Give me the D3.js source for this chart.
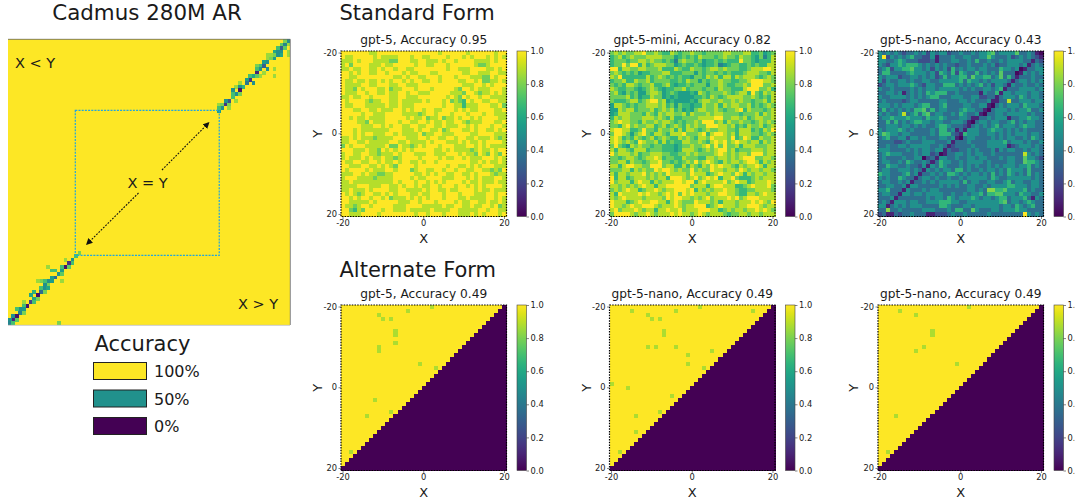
<!DOCTYPE html>
<html>
<head>
<meta charset="utf-8">
<script src="https://cdn.jsdelivr.net/npm/d3@7"></script>
<style>
  body { margin: 0; background: #fff; }
  text { font-family: "DejaVu Sans", sans-serif; fill: #1a1a1a; }
  rect.cell { shape-rendering: crispEdges; }
</style>
</head>
<body>
<div id="graph"></div>
<script>
// one digit per cell, looked up in the levels below
const std5Rows = [
"9999999889 9999999999 9999899999 9899999989 9","9889999989 8888999899 8899998999 8989998989 8","8889899988 8877999889 9888989989 9998888989 9",
"8979999888 9889999989 9889998999 9998778999 9","8898899889 8998998899 9999998998 8899998898 9","9989899889 9899989889 9988999999 8899888998 8",
"9988999999 9998898998 8999899989 9988877989 9","9889889889 8989989899 8899899998 8998977889 8","9888899889 9988998889 9999999999 8889989899 9",
"9887989998 8978899989 9989999987 9989888999 8","9888998998 8988998998 8899999888 7998788989 8","8898899899 9988998889 9999998987 9899899888 8",
"9899998788 9988988888 9899989787 6989988998 8","9889998888 8988988899 9999989988 6888999889 7","9998899889 8889989899 8998899989 8988999988 9",
"9999989988 8999988887 8998999899 9899989988 8","9989889888 8999998988 9788978898 9989899998 8","9999887988 8999899889 9898898899 8788899988 9",
"9999988899 8989988998 8998898889 9898999899 8","9998988888 8899988898 9988978999 8898998898 9","9998989988 8998988889 7889988899 9988999988 8",
"8898988878 8889998889 9899889989 9889888987 8","8899889888 8899889888 8989998889 8988989999 8","7989998888 8977988789 8999899988 8998989888 8",
"9998889887 9898989899 9998898988 8878988989 9","8998899887 8889899988 8998889998 9887987987 9","8988898988 9887899998 9999898899 8988899989 8",
"9889988998 9889899889 8998999999 9988989889 8","9988899889 8987999989 9999998998 8989899988 8","9899998988 8998999789 9889989989 9889988787 9",
"8889989887 7889999988 9898998899 8898999878 8","8999888878 8889999898 8999988899 9898988899 8","8898888888 8889899989 9898989999 8988988898 8",
"8888999888 9988989989 8899899989 9898989999 8","8898889899 9988998888 9899889889 9998988988 8","9898789988 9898999889 8899989998 9998889989 9",
"9989899899 8978889898 9899989998 8988889989 8","9988888989 9999888998 9998999989 8899889889 8","9887899899 9998889999 8888898899 8898899897 8",
"9976879999 8998889888 8898888998 8888998998 8","9988899998 9999999989 9899989998 8898989998 9"];

const stdMiniRows = [
"7878778897 7876687677 8776777788 7778866756 7","6786787778 8887775676 7687776787 7687765746 8","6777677887 8776764787 7675667676 6697765666 8",
"6779799686 7888775676 6765667456 7766767668 8","9968877887 7786668766 8776788787 7766788899 8","7876767566 7778866677 7576776767 6667888776 8",
"8796666668 6787676766 5776878688 6878887678 7","6778668778 6777766768 7757677877 6677899988 7","7676887677 8667865667 6777577876 6778799977 8",
"8766776567 8765667786 7776776877 6668999778 6","7865767557 8875676555 6587677787 6788697687 8","7777867566 8775656555 5667687678 8887787676 8",
"7666788678 9978565555 6578877877 8787767786 8","5887676778 8878675766 5668778687 8877867678 7","5587886777 8678786756 5788778767 7896877767 8",
"5688877768 7687887786 8777878877 7767778687 8","6878877788 8787686677 7788889977 8878678877 8","7898877687 7878876767 7879997868 7787767878 7",
"7768978778 8678678768 7877999887 8676877867 8","8998866797 7687786868 8767877887 7688867687 9","7998757897 6887688897 7789689987 8688877678 7",
"8986768767 8678766878 7688798887 9679866877 8","8987876987 7868676688 7787689897 8988788687 8","7976587877 6776665677 8778979797 7868887778 8",
"8688768886 7776665688 8767878997 8677788878 8","9788878677 8887766778 7877778987 8788799978 8","7767887678 8986776687 7766887887 8789997788 7",
"7788687767 8897767678 7978987687 8878998687 8","8868998877 9997886686 8768798988 7687889868 8","7778868787 7989987877 9787798878 8798788788 7",
"8688788897 8787988887 9888678988 7986878878 8","9688678887 8788699987 8978989688 9766678788 8","9788868988 6878889989 9689888897 8988678889 8",
"8878787898 8688999999 7888689988 8667898889 7","7878988678 8987889998 9687878898 8766778888 7","8698888989 8878989798 9888788998 8766887898 8",
"8789888878 8887989988 7878978889 8978999888 8","9888678988 9988689877 7988878688 8788898987 9","9887898899 9878889878 8999678988 8788999878 8",
"8978889878 8688988978 8899988678 7887889898 7","7999987889 8788898988 7898788876 7788788788 8"];

const stdNanoRows = [
"4343432334 3424344233 4334344563 4444633431 0","4924343453 3224133343 3443344643 3342343432 1","4433454333 2223133344 3343533433 4344443313 2",
"4324454555 4343434332 3343334342 3344434134 3","3452445564 4342434253 4344344333 5443401334 4","3553333454 4434254352 5433534343 6333014343 4",
"4344423344 3434235344 5536445534 6353133343 3","4243344343 3443344444 5354434344 4431344343 4","2344344454 3244335553 4343453424 4314334334 3",
"4334333343 4344344444 3434334434 5133344443 4","3344341343 4354555334 3333314335 1443444344 3","4334444343 4345533344 4334422331 3444354344 3",
"3433332344 3333344333 4434333411 3383344434 4","4443434443 4553345333 3443344103 4344435444 3","3534343435 5635344333 4544331034 4434344533 4",
"4343348345 3563443343 5433410334 4344444343 3","3445444544 4354454333 4431133434 4413344544 3","3353534345 5443443344 4310344344 3345343443 3",
"3344434434 3433455433 3213434345 3444345443 3","4344454343 3334355341 3144433454 4343434333 3","4654434433 3334355532 1544433443 4343444344 3",
"3453344244 3433344341 0344333343 4344334354 3","3333223433 3444333413 3343333444 4534443433 4","3343344344 4443343123 3334333444 4412344434 3",
"4443333434 3443441322 3343433342 4344334344 3","3454443334 3442301334 4343443343 3333338434 3","3433334334 4023144334 3344344333 4344336443 2",
"3443343543 3431354433 4344443433 3344336554 3","3354433433 2414354333 4343433434 3444344534 3","3443344434 3143434435 5343343443 4354443533 3",
"5443334534 1334343554 3434434353 4354343534 3","4343354331 3443433433 4344444354 3344444434 3","3443343413 3434344444 3534433443 3453443344 3",
"3344334144 3333343434 3344334344 4455444344 3","4453331433 3434433333 3344343775 5644445343 3","3443314434 4344443343 3434453556 6444354433 4",
"3334133333 3343443543 4445434434 5534445314 3","3431444344 3344455544 3344444444 5634434543 3","4413434344 4333355433 3443444444 3443543453 3",
"3373343333 3444333435 5336433344 3444544333 3","2311323343 3311222343 3433333433 3333339434 3"];

const evenLevels = [0, 0.11, 0.22, 0.33, 0.44, 0.56, 0.67, 0.78, 0.89, 1];
const nanoLevels = [0.02, 0.1, 0.24, 0.36, 0.5, 0.66, 0.74, 0.82, 0.9, 1];

// alternate form: yellow cells in each row, then the few cells that are not 1.0
const altYellowCounts = [40,39,38,37,36,35,34,33,32,31,30,29,28,27,26,25,24,23,22,21,20,19,18,17,16,15,14,13,12,11,10,9,8,7,6,5,4,3,2,1,0];
const altMissA = [[-4,-19],[2,-20],[-11,-18],[-10,-17],[-8,-17],[-7,-14],[-7,-13],[-7,-11],[-11,-10],[-11,-9],[-1,-6],[3,-5],[-12,3],[-8,6],[-14,7],[-18,16]];
const altMissB = [[-15,-19],[-4,-19],[2,-20],[15,-19],[-11,-18],[-10,-17],[-8,-17],[-7,-14],[-7,-13],[-11,-10],[-9,-10],[-4,-10],[5,-9],[-1,-8],[-1,-6],[3,-5],[-20,-1],[-16,0],[-5,2],[-14,7],[-8,6],[-14,11],[-18,16]];
const altMissC = [[-15,-19],[2,-20],[-11,-18],[-7,-14],[-7,-13],[-9,-10],[-11,-9],[-1,-6],[-16,7],[-18,16]];
const altMissValue = 0.875;

// left map: 81 x 81, all 1.0 except these [row, col, accuracy]
const arCells = [
[0,79,.8],[0,80,.5],[1,78,.75],[1,79,.45],[1,80,.85],[2,77,.7],[2,78,.3],[2,79,.75],[3,76,.6],[3,77,.5],[3,78,.5],[3,80,.85],[4,74,.85],[4,75,.85],[4,76,.8],[4,77,.5],[4,78,.6],[4,80,.85],
[5,75,.8],[5,76,.55],[5,74,.85],[6,73,.55],[6,74,.5],[7,71,.8],[7,72,.7],[7,73,.3],[8,71,.7],[8,72,.5],[8,74,.5],[8,76,.85],[9,71,.1],[9,73,.85],[10,70,.6],[10,69,.7],[10,71,.75],[10,72,.85],[10,76,.85],
[11,69,.15],[11,68,.55],[12,68,.4],[12,70,.5],[12,66,.85],[13,67,.65],[13,66,.5],[13,65,.85],[14,66,.05],[14,64,.5],[15,65,.5],[15,64,.7],[15,66,.8],[16,64,.7],[17,63,.25],[17,62,.5],[17,65,.85],
[18,62,.15],[18,60,.85],[18,61,.8],[18,63,.8],[19,61,.5],[19,60,.7],[19,63,.85],[20,60,.55],
[60,20,.8],[61,19,.7],[62,18,.5],[62,16,.85],[63,17,.15],[63,18,.7],[64,16,.05],[64,11,.85],[64,15,.7],[64,17,.75],[65,15,.55],[65,12,.7],[65,13,.7],[66,14,.5],[66,15,.75],[67,13,.35],[67,12,.55],
[68,12,.55],[68,11,.5],[68,10,.7],[68,9,.8],[68,8,.85],[68,15,.85],[69,11,.8],[69,10,.5],[70,10,.5],[70,9,.7],[70,11,.6],[71,9,.35],[71,10,.8],[71,7,.65],[72,8,.05],[72,6,.6],[73,7,.6],[73,8,.8],
[74,6,.2],[74,4,.85],[74,7,.7],[75,5,.05],[75,4,.7],[76,4,.55],[76,3,.5],[76,2,.7],[77,3,.45],[77,4,.8],[78,2,.05],[78,1,.5],[79,1,.1],[79,0,.5],[79,2,.75],[80,0,.45],[80,1,.7],[80,14,.8]];

const panelTitles = ["gpt-5, Accuracy 0.95","gpt-5-mini, Accuracy 0.82","gpt-5-nano, Accuracy 0.43","gpt-5, Accuracy 0.49","gpt-5-nano, Accuracy 0.49","gpt-5-nano, Accuracy 0.49"];
const axisValues = d3.range(-20, 21);
const axisTicks = [-20, 0, 20];
const barTicks = [0, 0.2, 0.4, 0.6, 0.8, 1];
const legendLabels = ["100%", "50%", "0%"];
const legendValues = [1, 0.5, 0];

var color = d3.scaleSequential(d3.interpolateViridis).domain([0, 1]);

var svg = d3.select("#graph")
  .append("svg")
  .attr("width", 1083)
  .attr("height", 500)
  .style("display", "block");

var defs = svg.append("defs");

var grad = defs.append("linearGradient")
  .attr("id", "viridis")
  .attr("x1", 0).attr("x2", 0).attr("y1", 1).attr("y2", 0);
grad.selectAll("stop")
  .data(d3.range(0, 1.001, 0.05))
  .enter()
  .append("stop")
  .attr("offset", (d) => d)
  .attr("stop-color", (d) => color(d));

// the picture is cut off on the right
defs.append("clipPath").attr("id", "pageCut")
  .append("rect").attr("x", 0).attr("y", 0).attr("width", 1074.5).attr("height", 500);

function digitCells(rows, levels) {
  let cells = [];
  rows.forEach(function (row, r) {
    let digits = row.replace(/ /g, "");
    axisValues.forEach(function (x, c) {
      cells.push({ x: x, y: axisValues[r], v: levels[+digits[c]] });
    });
  });
  return cells;
}

function altCells(missing) {
  let cells = [];
  altYellowCounts.forEach(function (count, r) {
    axisValues.forEach(function (x, c) {
      cells.push({ x: x, y: axisValues[r], v: c < count ? 1 : 0 });
    });
  });
  missing.forEach(function (m) {
    let cell = cells.find((d) => d.x === m[0] && d.y === m[1]);
    cell.v = altMissValue;
  });
  return cells;
}

function drawPanel(left, top, title, cells, yLabelX, cut) {
  const size = 165.5;
  var x = d3.scaleBand().domain(axisValues).range([left, left + size]);
  var y = d3.scaleBand().domain(axisValues).range([top, top + size]);
  var g = svg.append("g");

  g.selectAll("rect.cell")
    .data(cells)
    .enter()
    .append("rect")
    .attr("class", "cell")
    .attr("x", (d) => x(d.x))
    .attr("y", (d) => y(d.y))
    .attr("width", x.bandwidth() + 0.5)
    .attr("height", y.bandwidth() + 0.5)
    .attr("fill", (d) => color(d.v));

  g.append("rect")
    .attr("x", left).attr("y", top)
    .attr("width", size).attr("height", size)
    .attr("fill", "none")
    .attr("stroke", "#000")
    .attr("stroke-width", 1.2)
    .attr("stroke-dasharray", "1.5,1.2");

  var xAxis = g.append("g")
    .attr("transform", "translate(0," + (top + size) + ")")
    .call(d3.axisBottom(x).tickValues(axisTicks).tickSize(2.5).tickPadding(1.5));
  var yAxis = g.append("g")
    .attr("transform", "translate(" + left + ",0)")
    .call(d3.axisLeft(y).tickValues(axisTicks).tickSize(2.5).tickPadding(1.5));
  [xAxis, yAxis].forEach(function (a) {
    a.select(".domain").remove();
    a.selectAll("text").style("font-family", '"DejaVu Sans", sans-serif').style("font-size", "8.3px").attr("fill", "#1a1a1a");
    a.selectAll("line").attr("stroke", "#333").attr("stroke-width", 0.6);
  });

  g.append("text")
    .attr("x", left + size / 2).attr("y", top - 7)
    .attr("text-anchor", "middle")
    .style("font-size", "12.2px")
    .text(title);
  g.append("text")
    .attr("x", left + size / 2).attr("y", top + size + 26)
    .attr("text-anchor", "middle")
    .style("font-size", "13px")
    .text("X");
  g.append("text")
    .attr("transform", "translate(" + yLabelX + "," + (top + size / 2) + ") rotate(-90)")
    .attr("text-anchor", "middle")
    .style("font-size", "13px")
    .text("Y");

  // colorbar
  var barX = left + size + 10.5;
  var barScale = d3.scaleLinear().domain([0, 1]).range([top + size, top]);
  g.append("rect")
    .attr("x", barX).attr("y", top)
    .attr("width", 9.5).attr("height", size)
    .attr("fill", "url(#viridis)")
    .attr("stroke", "#444")
    .attr("stroke-width", 0.6);
  var barAxis = g.append("g")
    .attr("transform", "translate(" + (barX + 9.5) + ",0)")
    .call(d3.axisRight(barScale).tickValues(barTicks).tickFormat(d3.format(".1f")).tickSize(2.5).tickPadding(1.5));
  barAxis.select(".domain").remove();
  barAxis.selectAll("text").style("font-family", '"DejaVu Sans", sans-serif').style("font-size", "8.3px").attr("fill", "#1a1a1a");
  barAxis.selectAll("line").attr("stroke", "#333").attr("stroke-width", 0.6);
  if (cut) {
    g.attr("clip-path", "url(#pageCut)");
  }
}

const lefts = [341, 609.5, 878];
const tops = [51, 305];
const yLabels = [322, 591, 858];

drawPanel(lefts[0], tops[0], panelTitles[0], digitCells(std5Rows, evenLevels), yLabels[0], false);
drawPanel(lefts[1], tops[0], panelTitles[1], digitCells(stdMiniRows, evenLevels), yLabels[1], false);
drawPanel(lefts[2], tops[0], panelTitles[2], digitCells(stdNanoRows, nanoLevels), yLabels[2], true);
drawPanel(lefts[0], tops[1], panelTitles[3], altCells(altMissA), yLabels[0], false);
drawPanel(lefts[1], tops[1], panelTitles[4], altCells(altMissB), yLabels[1], false);
drawPanel(lefts[2], tops[1], panelTitles[5], altCells(altMissC), yLabels[2], true);

svg.append("text").attr("x", 339.5).attr("y", 20).style("font-size", "21px").text("Standard Form");
svg.append("text").attr("x", 339.5).attr("y", 277).style("font-size", "21px").text("Alternate Form");

// left map
var arIndex = d3.range(0, 81);
var arX = d3.scaleBand().domain(arIndex).range([8, 290]);
var arY = d3.scaleBand().domain(arIndex).range([39, 325]);

var left = svg.append("g");
left.append("rect")
  .attr("x", 8).attr("y", 39).attr("width", 282).attr("height", 286)
  .attr("fill", color(1));
left.selectAll("rect.cell")
  .data(arCells)
  .enter()
  .append("rect")
  .attr("class", "cell")
  .attr("x", (d) => arX(d[1]))
  .attr("y", (d) => arY(d[0]))
  .attr("width", arX.bandwidth() + 0.3)
  .attr("height", arY.bandwidth() + 0.3)
  .attr("fill", (d) => color(d[2]));
left.append("path")
  .attr("d", "M8,39.3H290.3V325")
  .attr("fill", "none")
  .attr("stroke", "#666")
  .attr("stroke-width", 0.8);
left.append("path")
  .attr("d", "M8,325.3H290")
  .attr("stroke", "#bbb")
  .attr("stroke-width", 0.8);

left.append("rect")
  .attr("x", 75.3).attr("y", arY(20) + 0.7)
  .attr("width", arX(61) - arX(20) + 1.2).attr("height", arY(61) - arY(20) + 0.2)
  .attr("fill", "none")
  .attr("stroke", "#1fa5e0")
  .attr("stroke-width", 1.2)
  .attr("stroke-dasharray", "2,1.2");

defs.append("marker")
  .attr("id", "head")
  .attr("viewBox", "0 0 10 10")
  .attr("refX", 9).attr("refY", 5)
  .attr("markerWidth", 6.5).attr("markerHeight", 6.5)
  .attr("markerUnits", "userSpaceOnUse")
  .attr("orient", "auto")
  .append("path")
  .attr("d", "M0,0L10,5L0,10Z")
  .attr("fill", "#111");

const arrowEnds = [[162, 170, 209, 122.5], [138.5, 193, 86.5, 244.5]];
left.selectAll("line.arrow")
  .data(arrowEnds)
  .enter()
  .append("line")
  .attr("class", "arrow")
  .attr("x1", (d) => d[0]).attr("y1", (d) => d[1])
  .attr("x2", (d) => d[2]).attr("y2", (d) => d[3])
  .attr("stroke", "#111")
  .attr("stroke-width", 1.1)
  .attr("stroke-dasharray", "1.8,1.4")
  .attr("marker-end", "url(#head)");

left.append("text").attr("x", 35).attr("y", 68).attr("text-anchor", "middle").style("font-size", "14.5px").text("X < Y");
left.append("text").attr("x", 147.5).attr("y", 187.5).attr("text-anchor", "middle").style("font-size", "14.5px").text("X = Y");
left.append("text").attr("x", 258).attr("y", 308.5).attr("text-anchor", "middle").style("font-size", "14.5px").text("X > Y");
svg.append("text").attr("x", 147).attr("y", 20).attr("text-anchor", "middle").style("font-size", "21.4px").text("Cadmus 280M AR");

// legend
svg.append("text").attr("x", 94.5).attr("y", 351).style("font-size", "21px").text("Accuracy");
var legendY = d3.scalePoint().domain(legendLabels).range([362.5, 417.5]);
var legend = svg.selectAll("g.key")
  .data(legendLabels)
  .enter()
  .append("g")
  .attr("class", "key")
  .attr("transform", (d) => "translate(0," + legendY(d) + ")");
legend.append("rect")
  .attr("x", 93.5).attr("width", 53).attr("height", 17)
  .attr("fill", (d, i) => color(legendValues[i]))
  .attr("stroke", "#222")
  .attr("stroke-width", 1);
legend.append("text")
  .attr("x", 154).attr("y", 14.5)
  .style("font-size", "16px")
  .text((d) => d);
</script>
</body>
</html>
